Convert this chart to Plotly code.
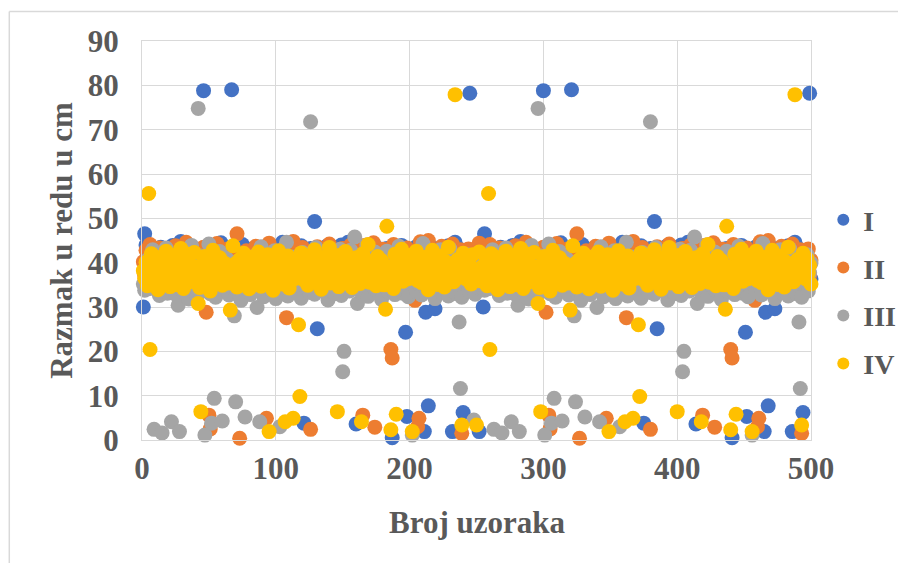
import plotly.graph_objects as go

# ---- data (one repeating block of 254 samples) ----
PERIOD = 254
N_SAMPLES = 500

series_names = ["I", "II", "III", "IV"]
series_colors = ["#4472C4", "#ED7D31", "#A5A5A5", "#FFC000"]

I_band = [
    38.0, 40.5, 43.0, 41.6, 36.5, 39.8, 43.3, 35.2, 40.7, 37.9, 42.4, 34.6, 39.1, 43.5, 36.8, 41.0, 38.3, 35.5, 42.9, 37.4,
    40.1, 36.2, 43.9, 38.6, 34.9, 41.3, 37.7, 39.5, 44.8, 35.8, 40.4, 38.2, 42.1, 36.0, 39.9, 34.2, 41.8, 37.1, 43.2, 38.9,
    35.4, 40.8, 42.6, 36.9, 39.3, 44.0, 37.5, 41.1, 34.5, 38.4, 43.7, 36.3, 40.2, 38.7, 42.0, 35.7, 39.6, 37.2, 44.5, 41.4,
    36.6, 39.0, 42.8, 35.1, 40.6, 38.1, 43.4, 37.0, 41.7, 34.8, 39.7, 36.4, 42.3, 38.5, 44.1, 35.9, 40.0, 37.6, 43.0, 39.2,
    34.3, 41.5, 38.8, 36.1, 42.7, 39.4, 35.6, 43.4, 37.3, 40.9, 38.0, 42.2, 36.7, 39.9, 34.7, 41.2, 37.8, 43.6, 36.0, 40.3,
    38.6, 42.5, 35.3, 39.1, 44.6, 37.4, 41.0, 36.2, 43.1, 38.3, 34.4, 44.0, 37.9, 42.9, 35.8, 39.5, 41.9, 36.5, 43.8, 38.2,
    35.0, 40.4, 42.0, 37.1, 39.8, 43.2, 36.8, 41.6, 34.9, 38.9, 43.3, 37.7, 40.1, 35.5, 42.6, 39.0, 36.4, 43.7, 38.4, 41.3,
    36.9, 39.6, 43.5, 35.2, 40.8, 38.1, 42.3, 37.0, 44.0, 34.6, 41.1, 38.7, 36.3, 44.6, 39.3, 35.7, 42.1, 37.5, 40.5, 38.0,
    43.9, 36.1, 41.4, 39.2, 34.2, 42.8, 37.6, 40.0, 35.9, 43.7, 38.5, 36.6, 41.8, 39.7, 35.1, 43.3, 37.2, 40.6, 38.8, 42.4,
    35.4, 39.9, 43.2, 36.7, 41.2, 38.3, 43.5, 34.8, 40.2, 37.8, 42.7, 36.0, 39.4, 43.9, 35.6, 41.5, 38.6, 37.3, 43.1, 40.9,
    36.4, 42.2, 38.1, 35.0, 43.6, 39.1, 37.4, 41.7, 34.5, 40.3, 44.8, 36.8, 38.9, 42.5, 35.8, 39.6, 43.3, 37.0, 41.0, 38.4,
    35.3, 43.2, 39.8, 36.5, 42.0, 38.2, 40.7, 34.7, 43.8, 37.5, 41.4, 36.1, 39.0, 44.6, 35.5, 40.8, 38.7, 42.9, 36.9, 44.4,
    37.7, 41.9, 35.2, 39.5, 44.0, 36.3, 42.6, 38.5, 40.1, 37.1, 43.5, 35.9, 41.2, 39.3,
]
II_band = [
    40.2, 37.1, 42.8, 35.6, 39.0, 44.1, 36.4, 38.7, 41.5, 34.3, 39.8, 37.5, 43.3, 36.0, 40.6, 35.1, 38.4, 42.2, 37.8, 39.4,
    34.8, 41.1, 38.1, 36.7, 43.8, 39.6, 35.4, 40.9, 37.2, 42.5, 36.2, 38.9, 44.6, 35.9, 40.1, 37.6, 41.9, 34.5, 39.2, 36.9,
    42.0, 38.3, 35.8, 40.4, 37.0, 43.5, 36.5, 39.7, 41.3, 34.1, 38.6, 42.9, 36.1, 40.0, 37.4, 44.3, 35.2, 39.1, 41.7, 37.9,
    36.3, 40.8, 38.0, 43.1, 35.5, 39.5, 37.3, 42.4, 34.6, 41.0, 38.8, 36.6, 44.0, 39.3, 35.7, 40.5, 37.7, 42.7, 36.8, 38.5,
    41.4, 35.0, 39.9, 37.1, 43.7, 36.0, 40.3, 38.2, 34.9, 42.1, 37.5, 39.0, 41.8, 35.3, 44.4, 38.7, 36.4, 40.7, 37.8, 42.6,
    35.9, 39.4, 41.2, 36.7, 38.1, 43.0, 34.4, 40.0, 37.3, 42.3, 36.2, 39.8, 44.8, 35.6, 38.9, 41.6, 37.0, 40.4, 36.5, 43.4,
    38.4, 35.1, 41.0, 37.6, 39.6, 42.9, 36.1, 40.6, 34.7, 38.0, 43.6, 37.2, 39.3, 41.5, 35.8, 40.1, 36.9, 42.0, 38.6, 44.2,
    36.3, 39.1, 41.9, 35.4, 38.3, 42.5, 37.7, 40.2, 34.2, 43.2, 38.8, 36.6, 41.1, 39.5, 35.2, 44.0, 37.4, 40.8, 36.0, 42.7,
    38.5, 35.7, 41.3, 37.9, 39.7, 43.9, 36.4, 40.5, 34.5, 42.2, 38.2, 37.0, 44.5, 39.2, 35.5, 41.7, 36.8, 40.0, 37.5, 43.0,
    35.3, 39.9, 42.4, 36.2, 38.7, 41.0, 37.1, 44.1, 34.8, 40.3, 38.0, 36.7, 42.8, 39.4, 35.9, 41.4, 37.6, 43.3, 36.1, 39.0,
    41.6, 35.0, 38.9, 42.1, 37.3, 40.7, 36.5, 44.7, 34.3, 39.6, 38.4, 41.2, 36.9, 43.5, 35.6, 40.2, 37.8, 42.6, 36.3, 39.3,
    41.8, 35.4, 38.6, 43.7, 37.0, 40.9, 36.0, 42.3, 34.6, 39.8, 38.1, 44.2, 36.6, 41.0, 35.1, 40.4, 37.4, 42.9, 36.8, 39.5,
    41.5, 35.8, 38.3, 43.1, 37.2, 40.6, 36.4, 42.0, 34.9, 39.1, 38.8, 44.4, 36.2, 40.1,
]
III_band = [
    35.2, 33.8, 37.9, 40.6, 34.1, 38.7, 36.3, 42.9, 33.5, 39.4, 35.8, 41.2, 32.6, 37.1, 34.9, 40.0, 36.6, 43.3, 33.1, 38.2,
    35.5, 41.8, 34.4, 37.6, 32.9, 39.9, 36.0, 34.7, 42.2, 38.5, 33.3, 36.8, 40.4, 35.1, 31.8, 37.4, 43.9, 34.2, 39.1, 36.4,
    32.4, 38.0, 35.9, 41.5, 33.7, 37.3, 39.6, 34.6, 36.9, 44.2, 33.0, 38.9, 35.3, 40.8, 32.2, 37.7, 34.0, 42.5, 36.2, 39.2,
    33.6, 35.7, 41.0, 38.3, 32.7, 36.5, 40.1, 34.3, 37.8, 43.1, 33.4, 39.7, 35.0, 31.5, 38.6, 36.1, 42.0, 34.8, 37.2, 40.7,
    32.8, 36.7, 39.3, 34.5, 41.6, 33.2, 38.1, 35.6, 43.6, 37.0, 32.3, 40.2, 34.9, 36.4, 39.8, 33.9, 38.4, 35.4, 42.7, 31.9,
    37.5, 34.2, 40.9, 36.8, 33.1, 39.0, 35.2, 44.6, 32.5, 38.8, 36.3, 41.3, 34.0, 37.6, 33.5, 40.5, 35.9, 39.5, 32.0, 42.3,
    36.6, 34.4, 38.2, 41.9, 33.3, 37.1, 35.0, 39.9, 32.9, 43.4, 36.0, 34.7, 40.3, 37.9, 33.8, 38.6, 35.5, 42.1, 31.6, 39.4,
    36.9, 34.1, 41.1, 33.0, 37.4, 39.1, 35.8, 43.0, 32.6, 38.0, 36.2, 40.6, 34.6, 37.7, 33.6, 42.8, 35.1, 39.7, 32.1, 38.9,
    36.5, 34.8, 41.7, 33.2, 37.3, 40.0, 35.6, 44.0, 32.4, 38.5, 36.7, 39.2, 34.3, 42.4, 33.7, 37.0, 35.3, 40.8, 31.7, 38.3,
    36.1, 34.5, 42.6, 33.4, 37.8, 39.6, 35.7, 41.4, 32.8, 38.7, 36.4, 43.7, 34.0, 37.2, 33.1, 40.4, 35.4, 39.0, 32.3, 41.0,
    36.8, 34.9, 38.1, 42.0, 33.5, 37.5, 35.2, 40.1, 32.7, 44.3, 36.3, 34.2, 39.8, 37.6, 33.9, 41.6, 35.9, 38.4, 31.9, 39.3,
    36.0, 34.6, 42.9, 33.3, 37.0, 40.7, 35.5, 38.8, 32.5, 43.2, 36.6, 34.4, 41.2, 37.9, 33.0, 39.5, 35.0, 38.2, 32.2, 40.2,
    36.2, 34.7, 41.8, 33.6, 37.7, 39.9, 35.8, 43.5, 32.9, 38.6, 36.5, 34.1, 40.6, 37.3,
]
IV_band = [
    38.2, 36.5, 40.1, 34.8, 39.6, 37.3, 42.0, 35.5, 38.9, 41.3, 36.8, 33.9, 39.4, 37.7, 40.8, 35.2, 38.5, 42.6, 36.1, 39.0,
    34.6, 40.4, 37.9, 36.3, 41.7, 38.8, 35.0, 39.9, 43.2, 37.1, 34.2, 40.6, 38.0, 36.7, 41.9, 35.7, 39.3, 37.4, 42.3, 36.0,
    38.6, 40.9, 34.4, 37.8, 39.7, 36.4, 41.4, 35.3, 38.3, 40.2, 33.6, 37.0, 42.8, 36.9, 39.1, 35.9, 38.7, 41.1, 37.2, 34.9,
    40.0, 36.6, 39.5, 38.1, 35.4, 41.6, 37.6, 43.8, 36.2, 39.8, 34.5, 38.4, 40.7, 35.6, 37.5, 42.1, 36.8, 39.2, 38.9, 34.1,
    41.2, 37.3, 35.1, 40.3, 38.7, 36.5, 42.4, 39.4, 34.7, 37.9, 40.5, 36.0, 38.2, 41.8, 35.8, 39.6, 37.0, 33.8, 40.1, 38.5,
    36.3, 42.7, 37.7, 39.0, 35.2, 40.8, 38.0, 36.9, 41.5, 34.3, 39.3, 37.4, 44.5, 36.4, 38.8, 40.4, 35.5, 37.8, 42.2, 39.7,
    36.1, 38.3, 41.0, 34.9, 37.2, 40.0, 39.1, 35.7, 42.9, 38.6, 36.7, 40.6, 37.5, 34.0, 39.9, 38.1, 41.3, 36.2, 37.6, 43.4,
    35.4, 39.5, 38.4, 36.8, 40.9, 37.1, 34.6, 41.7, 39.2, 36.0, 38.7, 42.5, 35.9, 37.3, 40.2, 38.9, 34.4, 39.6, 36.6, 41.1,
    37.7, 40.7, 35.3, 38.2, 42.0, 36.5, 39.4, 37.0, 44.1, 35.6, 38.5, 40.3, 36.9, 39.8, 34.8, 41.4, 37.9, 36.3, 40.5, 38.0,
    35.0, 42.3, 37.4, 39.0, 36.1, 40.8, 38.6, 34.2, 41.9, 37.2, 39.7, 36.7, 38.3, 43.0, 35.8, 40.1, 37.6, 39.3, 36.4, 41.6,
    38.8, 34.7, 40.4, 37.1, 42.6, 36.0, 39.1, 38.4, 35.5, 41.2, 37.8, 40.0, 36.2, 33.9, 39.5, 38.1, 42.8, 36.8, 40.6, 37.3,
    35.1, 39.9, 41.5, 36.6, 38.7, 34.5, 40.2, 37.5, 43.5, 36.3, 39.6, 38.0, 35.7, 41.0, 37.0, 40.7, 36.9, 39.2, 34.3, 42.1,
    38.5, 36.4, 40.9, 37.7, 39.4, 35.2, 41.8, 38.2, 36.1, 40.3, 37.4, 42.4, 35.9, 39.0,
]

# outlying samples inside one block: sample number -> value
I_out_x = [1, 2, 3, 46, 67, 121, 129, 131, 160, 187, 197, 198, 211, 212, 214, 219, 232, 240, 245, 252]
I_out_y = [30.0, 46.5, 44.0, 78.8, 79.0, 3.8, 49.3, 25.1, 3.6, 0.5, 24.3, 5.3, 1.9, 28.8, 7.7, 29.6, 1.9, 6.2, 78.2, 1.9]

II_out_x = [48, 50, 51, 71, 73, 93, 108, 126, 165, 174, 186, 187, 204, 206, 207, 214, 239]
II_out_y = [28.8, 5.6, 2.5, 46.5, 0.4, 4.9, 27.6, 2.4, 5.6, 2.9, 20.4, 18.5, 31.5, 3.0, 4.9, 45.0, 1.5]

III_out_x = [9, 15, 22, 27, 28, 42, 47, 52, 54, 60, 69, 70, 77, 86, 88, 103, 126, 150, 151, 159, 161, 202, 237, 238, 248]
III_out_y = [2.4, 1.6, 4.1, 30.4, 1.9, 74.8, 1.1, 3.8, 9.4, 4.3, 28.0, 8.6, 5.2, 29.9, 4.1, 3.0, 71.8, 15.4, 20.0, 45.8,
             30.8, 1.1, 26.6, 11.6, 4.5]

IV_out_x = [5, 6, 42, 44, 66, 95, 107, 113, 117, 118, 146, 164, 182, 183, 186, 190, 202, 234, 239, 250]
IV_out_y = [55.6, 20.4, 30.8, 6.4, 29.3, 1.9, 4.1, 4.9, 26.0, 9.8, 6.4, 4.1, 29.5, 48.2, 2.3, 5.8, 1.9, 77.9, 3.4, 3.4]

x_ticks = [0, 100, 200, 300, 400, 500]
y_ticks = [0, 10, 20, 30, 40, 50, 60, 70, 80, 90]
x_title = "Broj uzoraka"
y_title = "Razmak u redu u cm"

bands = [I_band, II_band, III_band, IV_band]
outs = [(I_out_x, I_out_y), (II_out_x, II_out_y), (III_out_x, III_out_y), (IV_out_x, IV_out_y)]

# ---- figure ----
# the page body adds an 8px offset, so the figure is 8px smaller and all
# screen positions below are given in screen pixels and shifted by OFF
OFF = 8
W, H = 906 - OFF, 563 - OFF
PLOT_X0, PLOT_X1, PLOT_Y0, PLOT_Y1 = 141.7, 810.7, 41.0, 440.0   # screen px
L = PLOT_X0 - OFF
T = PLOT_Y0 - OFF
R = W - (PLOT_X1 - OFF)
B = H - (PLOT_Y1 - OFF)
pw, ph = PLOT_X1 - PLOT_X0, PLOT_Y1 - PLOT_Y0


def px(X):
    return (X - PLOT_X0) / pw


def py(Y):
    return (PLOT_Y1 - Y) / ph


font_family = "Liberation Serif, Times New Roman, serif"
txt_color = "#595959"
grid_color = "#D9D9D9"
FS = 31

fig = go.Figure()
for name, color, band, (ox, oy) in zip(series_names, series_colors, bands, outs):
    block = list(band)
    for sx, sy in zip(ox, oy):
        block[sx - 1] = sy
    xs, ys = [], []
    k = 0
    while True:
        done = False
        for i, v in enumerate(block):
            xv = k * PERIOD + i + 1
            if xv > N_SAMPLES:
                done = True
                break
            xs.append(xv)
            ys.append(v)
        if done:
            break
        k += 1
    fig.add_trace(go.Scatter(
        x=xs, y=ys, mode="markers", name=name, legendgroup=name, cliponaxis=False,
        marker=dict(color=color, size=15, line=dict(width=0)),
    ))

fig.update_layout(
    width=W, height=H,
    margin=dict(l=L, r=R, t=T, b=B, autoexpand=False),
    paper_bgcolor="white", plot_bgcolor="white",
    font=dict(family=font_family, color=txt_color),
    showlegend=True,
    legend=dict(
        x=px(823), y=py(195), xanchor="left", yanchor="top",
        font=dict(family=font_family, size=28, color=txt_color, weight="bold"),
        tracegroupgap=8.5, itemsizing="constant", bgcolor="rgba(0,0,0,0)",
    ),
    xaxis=dict(
        range=[0, 500], tickvals=x_ticks, ticktext=[str(v) for v in x_ticks],
        showgrid=True, gridcolor=grid_color, gridwidth=1, automargin=False,
        zeroline=False, showline=True, linecolor=grid_color, mirror=True,
        ticks="outside", ticklen=1, tickcolor="rgba(0,0,0,0)",
        tickfont=dict(family=font_family, size=FS, color=txt_color, weight="bold"),
    ),
    yaxis=dict(
        range=[0, 90], tickvals=y_ticks, ticktext=[str(v) for v in y_ticks],
        showgrid=True, gridcolor=grid_color, gridwidth=1, automargin=False,
        zeroline=False, showline=True, linecolor=grid_color, mirror=True,
        ticks="outside", ticklen=16, tickcolor="rgba(0,0,0,0)",
        tickfont=dict(family=font_family, size=FS, color=txt_color, weight="bold"),
    ),
    annotations=[
        dict(text=x_title, xref="paper", yref="paper", x=0.5, y=py(522),
             xanchor="center", yanchor="middle", showarrow=False,
             font=dict(family=font_family, size=FS, color=txt_color, weight="bold")),
        dict(text=y_title, xref="paper", yref="paper", x=px(61), y=0.5,
             xanchor="center", yanchor="middle", showarrow=False, textangle=-90,
             font=dict(family=font_family, size=FS, color=txt_color, weight="bold")),
    ],
    shapes=[
        dict(type="line", xref="paper", yref="paper",
             x0=px(9), x1=px(9), y0=py(11.5), y1=py(563),
             line=dict(color=grid_color, width=1.5)),
        dict(type="line", xref="paper", yref="paper",
             x0=px(9), x1=px(906), y0=py(11.5), y1=py(11.5),
             line=dict(color=grid_color, width=1.5)),
    ],
)

fig.write_html("out.html")
